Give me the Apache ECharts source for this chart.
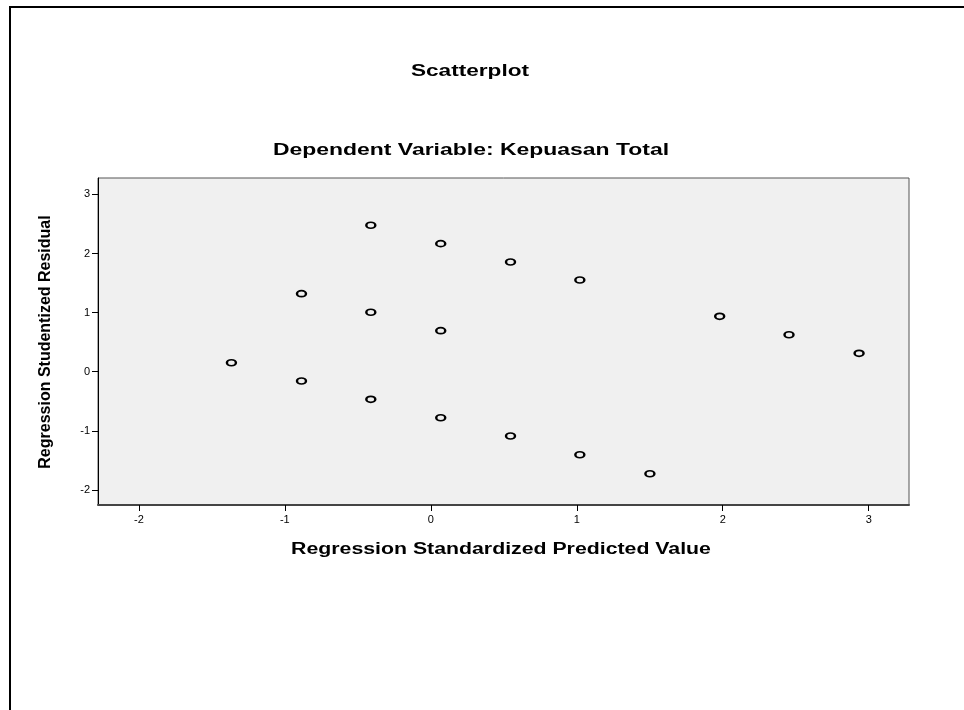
<!DOCTYPE html>
<html>
<head>
<meta charset="utf-8">
<script src="https://cdn.jsdelivr.net/npm/echarts@6/dist/echarts.min.js"></script>
<style>
html,body{margin:0;padding:0;background:#fff;}
#chart{width:964px;height:710px;}
</style>
</head>
<body>
<div id="chart"></div>
<script>
// Regression Standardized Predicted Value
var predicted = [-1.366, -0.886, -0.886, -0.411, -0.411, -0.411, 0.068, 0.068, 0.068, 0.546, 0.546, 1.021, 1.021, 1.501, 1.979, 2.454, 2.934];
// Regression Studentized Residual
var residual = [0.152, 1.320, -0.157, 2.477, 1.005, -0.467, 2.166, 0.694, -0.778, 1.856, -1.088, 1.552, -1.404, -1.726, 0.937, 0.626, 0.311];
var xTicks = [-2, -1, 0, 1, 2, 3];
var yTicks = [-2, -1, 0, 1, 2, 3];
var titleText = 'Scatterplot';
var subtitleText = 'Dependent Variable: Kepuasan Total';
var xName = 'Regression Standardized Predicted Value';
var yName = 'Regression Studentized Residual';

var points = predicted.map(function (v, i) { return [v, residual[i]]; });
var family = 'Arial, "Liberation Sans", sans-serif';

var chart = echarts.init(document.getElementById('chart'), null, {renderer: 'canvas'});
chart.setOption({
  backgroundColor: '#ffffff',
  animation: false,
  grid: {
    left: 98, top: 178, right: 55, bottom: 205,
    show: true, backgroundColor: '#f0f0f0', borderColor: '#555', borderWidth: 1
  },
  xAxis: {
    type: 'value', min: -2.28, max: 3.276,
    axisLine: {show: true, onZero: false, lineStyle: {color: '#444', width: 2}},
    axisTick: {show: true, length: 6, customValues: xTicks, lineStyle: {color: '#000', width: 1}},
    axisLabel: {customValues: xTicks, fontFamily: family, fontSize: 11, color: '#000', margin: 9},
    splitLine: {show: false}
  },
  yAxis: {
    type: 'value', min: -2.255, max: 3.277,
    axisLine: {show: true, onZero: false, lineStyle: {color: '#000', width: 1}},
    axisTick: {show: true, length: 6, customValues: yTicks, lineStyle: {color: '#000', width: 1}},
    axisLabel: {customValues: yTicks, fontFamily: family, fontSize: 11, color: '#000', margin: 8},
    splitLine: {show: false}
  },
  series: [{
    type: 'scatter',
    data: points,
    symbol: 'circle',
    symbolSize: [9, 6],
    itemStyle: {color: '#f0f0f0', borderColor: '#000', borderWidth: 2, opacity: 1}
  }],
  graphic: [
    {type: 'line', shape: {x1: 10, y1: 6, x2: 10, y2: 710}, style: {stroke: '#000', lineWidth: 2}},
    {type: 'line', shape: {x1: 9, y1: 7, x2: 964, y2: 7}, style: {stroke: '#000', lineWidth: 2}},
    {type: 'text', x: 470, y: 71, scaleX: 1.33,
     style: {text: titleText, font: 'bold 17px ' + family, fill: '#000', textAlign: 'center', textVerticalAlign: 'middle'}},
    {type: 'text', x: 471, y: 150, scaleX: 1.35,
     style: {text: subtitleText, font: 'bold 17px ' + family, fill: '#000', textAlign: 'center', textVerticalAlign: 'middle'}},
    {type: 'text', x: 501, y: 550, scaleX: 1.33,
     style: {text: xName, font: 'bold 16px ' + family, fill: '#000', textAlign: 'center', textVerticalAlign: 'middle'}},
    {type: 'text', x: 46, y: 342, rotation: Math.PI / 2,
     style: {text: yName, font: 'bold 16px ' + family, fill: '#000', textAlign: 'center', textVerticalAlign: 'middle'}}
  ]
});
</script>
</body>
</html>
